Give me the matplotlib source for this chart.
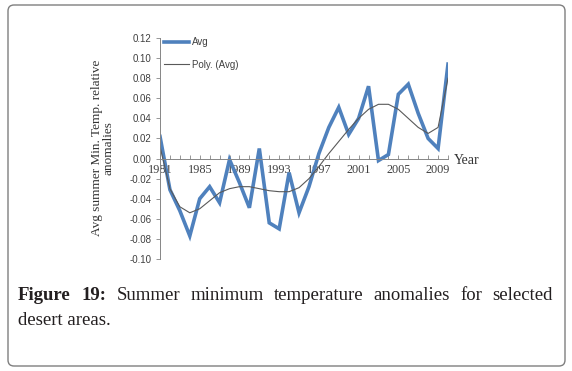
import matplotlib
matplotlib.use("Agg")
import matplotlib.pyplot as plt
from matplotlib.patches import FancyBboxPatch
from matplotlib.transforms import IdentityTransform

# data
years = list(range(1981, 2011))
avg = [0.022, -0.031, -0.052, -0.077, -0.040, -0.028, -0.044, -0.001, -0.024, -0.049,
       0.010, -0.064, -0.070, -0.014, -0.054, -0.028, 0.005, 0.031, 0.051, 0.024,
       0.040, 0.072, -0.002, 0.004, 0.064, 0.074, 0.045, 0.020, 0.010, 0.094]
poly_avg = [0.012, -0.030, -0.048, -0.054, -0.050, -0.042, -0.034, -0.030, -0.028, -0.028,
            -0.030, -0.032, -0.033, -0.033, -0.029, -0.020, -0.008, 0.005, 0.017, 0.029,
            0.040, 0.049, 0.054, 0.054, 0.049, 0.040, 0.031, 0.025, 0.031, 0.080]
year_labels = [1981, 1985, 1989, 1993, 1997, 2001, 2005, 2009]
y_ticks = [-0.10, -0.08, -0.06, -0.04, -0.02, 0.00, 0.02, 0.04, 0.06, 0.08, 0.10, 0.12]

fig = plt.figure(figsize=(5.72, 3.71), dpi=100)
ax = fig.add_axes([160/572, 1 - 259/371, (448 - 160)/572, (259 - 38)/371])

# spines first: moving a spine resets the ticks
for s in ["top", "right"]:
    ax.spines[s].set_visible(False)
ax.spines["bottom"].set_position(("data", 0))
for s in ["left", "bottom"]:
    ax.spines[s].set_color("#868686")
    ax.spines[s].set_linewidth(0.7)
ax.patch.set_alpha(0)

ax.plot(years, avg, color="#4f81bd", lw=2.6, label="Avg", solid_joinstyle="miter")
ax.plot(years, poly_avg, color="#595959", lw=0.8, label="Poly. (Avg)")

ax.set_xlim(1981, 2010)
ax.set_ylim(-0.10, 0.12)
ax.set_yticks(y_ticks)
ax.set_yticklabels(["%.2f" % v for v in y_ticks], fontsize=7, color="#404040",
                   family="Liberation Sans")
ax.set_xticks(years, minor=True)
ax.set_xticks(year_labels)
ax.set_xticklabels([str(y) for y in year_labels], fontsize=8.8, color="#404040",
                   family="Liberation Serif")
ax.tick_params(axis="y", length=3, width=0.6, color="#868686", pad=3)
ax.tick_params(axis="x", which="both", direction="in", length=3, width=0.6,
               color="#868686", pad=4)

leg = ax.legend(loc="upper left", bbox_to_anchor=(0.0, 1.02), frameon=False,
                prop={"family": "Liberation Sans", "size": 7}, handlelength=2.6,
                handletextpad=0.3, labelspacing=1.25, borderaxespad=0)
for t in leg.get_texts():
    t.set_color("#404040")

fig.text(103/572, 1 - 148/371, "Avg summer Min. Temp. relative\nanomalies", rotation=90,
         ha="center", va="center", fontsize=9.5, family="Liberation Serif",
         color="#333333", linespacing=0.95)
fig.text(454/572, 1 - 160/371, "Year", ha="left", va="center", fontsize=10,
         family="Liberation Serif", color="#333333")

# caption, first line justified between x=18 and x=553 px
cap_kw = dict(va="baseline", fontsize=13.5, family="Liberation Serif", color="#231f20")
first = [("Figure", "bold"), ("19:", "bold")] + [
    (w, "normal") for w in "Summer minimum temperature anomalies for selected".split()]
renderer = fig.canvas.get_renderer()
items = []
for w, fw in first:
    t = fig.text(0, 1 - 300/371, w, ha="left", fontweight=fw, **cap_kw)
    items.append((t, t.get_window_extent(renderer).width))
gap = (553 - 18 - sum(wd for _, wd in items)) / (len(items) - 1)
x = 18
for t, wd in items:
    t.set_x(x / 572)
    x += wd + gap
fig.text(18/572, 1 - 325/371, "desert areas.", ha="left", **cap_kw)

# rounded frame around the figure
box = FancyBboxPatch((8, 371 - 366), 557, 361, boxstyle="round,pad=0,rounding_size=6",
                     transform=IdentityTransform(), fill=False, ec="#7f7f7f", lw=1.0)
fig.add_artist(box)

fig.savefig("out.png", dpi=100)
